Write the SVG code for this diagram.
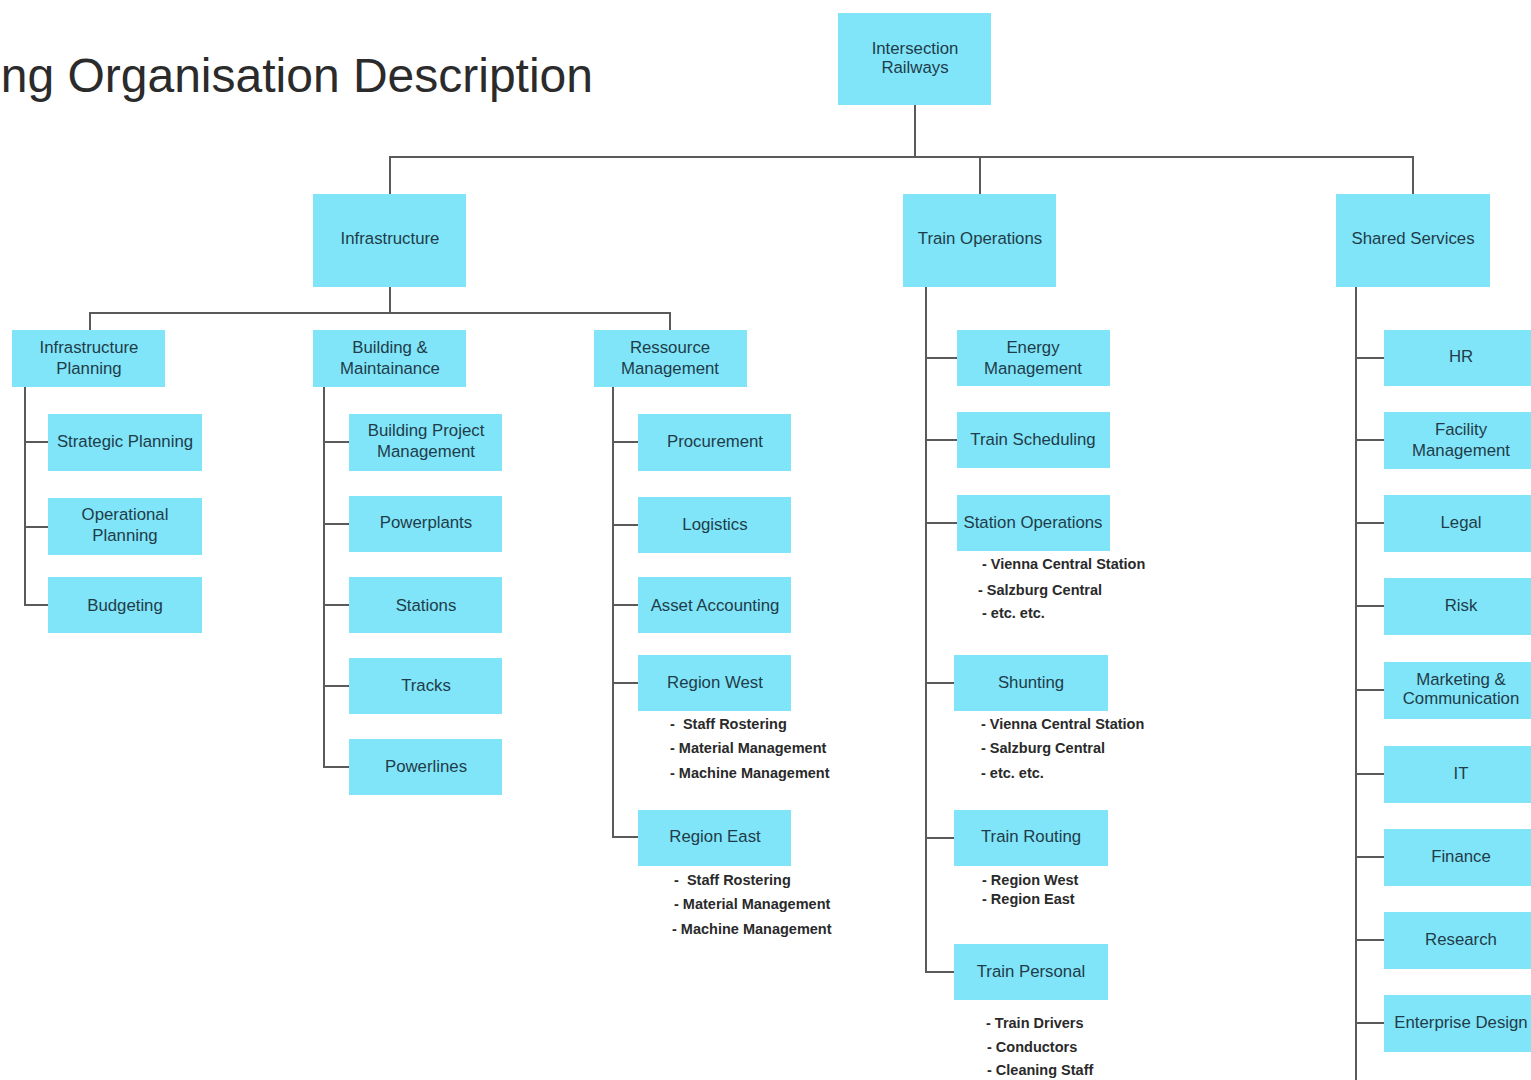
<svg xmlns="http://www.w3.org/2000/svg" width="1531" height="1080" viewBox="0 0 1531 1080">
<style>
.b{fill:#80e5f8}
.t{font-family:"Liberation Sans",Arial,sans-serif;font-size:16.8px;fill:#1f3c4a;text-anchor:middle}
.s{font-family:"Liberation Sans",Arial,sans-serif;font-size:14.5px;font-weight:bold;fill:#2a2a2a;white-space:pre}
.c{fill:none;stroke:#5a5a5a;stroke-width:2}
.title{font-family:"Liberation Sans",Arial,sans-serif;font-size:48px;fill:#2b2b2b}
</style>
<rect width="1531" height="1080" fill="#ffffff"/>
<text class="title" x="593" y="92" text-anchor="end">ng Organisation Description</text>
<g id="connectors">
<path class="c" d="M915 105V157M390 194V157H1413V194M980 157V194"/>
<path class="c" d="M390 287V313M90 330V313H670V330"/>
<path class="c" d="M25 387V605H48M25 442H48M25 527H48"/>
<path class="c" d="M324 387V767H349M324 442H349M324 524H349M324 605H349M324 686H349"/>
<path class="c" d="M613 387V837H638M613 442H638M613 525H638M613 605H638M613 683H638"/>
<path class="c" d="M926 287V972H954M926 358H957M926 440H957M926 523H957M926 683H954M926 838H954"/>
<path class="c" d="M1356 287V1080M1356 358H1384M1356 440H1384M1356 523H1384M1356 606H1384M1356 690H1384M1356 774H1384M1356 857H1384M1356 940H1384M1356 1023H1384"/>
</g>
<g id="n-root"><rect class="b" x="838" y="13" width="153" height="92"/><text class="t" x="915" y="54">Intersection</text><text class="t" x="915" y="73">Railways</text></g>
<g id="n-infra"><rect class="b" x="313" y="194" width="153" height="93"/><text class="t" x="390" y="244">Infrastructure</text></g>
<g id="n-trainops"><rect class="b" x="903" y="194" width="153" height="93"/><text class="t" x="980" y="244">Train Operations</text></g>
<g id="n-shared"><rect class="b" x="1336" y="194" width="154" height="93"/><text class="t" x="1413" y="244">Shared Services</text></g>
<g id="n-infraplan"><rect class="b" x="12" y="330" width="153" height="57"/><text class="t" x="89" y="353">Infrastructure</text><text class="t" x="89" y="374">Planning</text></g>
<g id="n-building"><rect class="b" x="313" y="330" width="153" height="57"/><text class="t" x="390" y="353">Building &amp;</text><text class="t" x="390" y="374">Maintainance</text></g>
<g id="n-ressource"><rect class="b" x="594" y="330" width="153" height="57"/><text class="t" x="670" y="353">Ressource</text><text class="t" x="670" y="374">Management</text></g>
<g id="n-strategic"><rect class="b" x="48" y="414" width="154" height="57"/><text class="t" x="125" y="447">Strategic Planning</text></g>
<g id="n-operational"><rect class="b" x="48" y="498" width="154" height="57"/><text class="t" x="125" y="520">Operational</text><text class="t" x="125" y="541">Planning</text></g>
<g id="n-budgeting"><rect class="b" x="48" y="577" width="154" height="56"/><text class="t" x="125" y="611">Budgeting</text></g>
<g id="n-bpm"><rect class="b" x="349" y="414" width="153" height="57"/><text class="t" x="426" y="436">Building Project</text><text class="t" x="426" y="457">Management</text></g>
<g id="n-powerplants"><rect class="b" x="349" y="496" width="153" height="56"/><text class="t" x="426" y="528">Powerplants</text></g>
<g id="n-stations"><rect class="b" x="349" y="577" width="153" height="56"/><text class="t" x="426" y="611">Stations</text></g>
<g id="n-tracks"><rect class="b" x="349" y="658" width="153" height="56"/><text class="t" x="426" y="691">Tracks</text></g>
<g id="n-powerlines"><rect class="b" x="349" y="739" width="153" height="56"/><text class="t" x="426" y="772">Powerlines</text></g>
<g id="n-procurement"><rect class="b" x="638" y="414" width="153" height="57"/><text class="t" x="715" y="447">Procurement</text></g>
<g id="n-logistics"><rect class="b" x="638" y="497" width="153" height="56"/><text class="t" x="715" y="530">Logistics</text></g>
<g id="n-asset"><rect class="b" x="638" y="577" width="153" height="56"/><text class="t" x="715" y="611">Asset Accounting</text></g>
<g id="n-regionwest"><rect class="b" x="638" y="655" width="153" height="56"/><text class="t" x="715" y="688">Region West</text>
<text class="s" x="670" y="729">-  Staff Rostering</text><text class="s" x="670" y="753">- Material Management</text><text class="s" x="670" y="778">- Machine Management</text></g>
<g id="n-regioneast"><rect class="b" x="638" y="810" width="153" height="56"/><text class="t" x="715" y="842">Region East</text>
<text class="s" x="674" y="885">-  Staff Rostering</text><text class="s" x="674" y="909">- Material Management</text><text class="s" x="672" y="934">- Machine Management</text></g>
<g id="n-energy"><rect class="b" x="957" y="330" width="153" height="56"/><text class="t" x="1033" y="353">Energy</text><text class="t" x="1033" y="374">Management</text></g>
<g id="n-scheduling"><rect class="b" x="957" y="412" width="153" height="56"/><text class="t" x="1033" y="445">Train Scheduling</text></g>
<g id="n-stationops"><rect class="b" x="957" y="495" width="153" height="56"/><text class="t" x="1033" y="528">Station Operations</text>
<text class="s" x="982" y="569">- Vienna Central Station</text><text class="s" x="978" y="595">- Salzburg Central</text><text class="s" x="982" y="618">- etc. etc.</text></g>
<g id="n-shunting"><rect class="b" x="954" y="655" width="154" height="56"/><text class="t" x="1031" y="688">Shunting</text>
<text class="s" x="981" y="729">- Vienna Central Station</text><text class="s" x="981" y="753">- Salzburg Central</text><text class="s" x="981" y="778">- etc. etc.</text></g>
<g id="n-routing"><rect class="b" x="954" y="810" width="154" height="56"/><text class="t" x="1031" y="842">Train Routing</text>
<text class="s" x="982" y="885">- Region West</text><text class="s" x="982" y="904">- Region East</text></g>
<g id="n-personal"><rect class="b" x="954" y="944" width="154" height="56"/><text class="t" x="1031" y="977">Train Personal</text>
<text class="s" x="986" y="1028">- Train Drivers</text><text class="s" x="987" y="1052">- Conductors</text><text class="s" x="987" y="1075">- Cleaning Staff</text></g>
<g id="n-hr"><rect class="b" x="1384" y="330" width="154" height="56"/><text class="t" x="1461" y="362">HR</text></g>
<g id="n-facility"><rect class="b" x="1384" y="412" width="154" height="57"/><text class="t" x="1461" y="435">Facility</text><text class="t" x="1461" y="456">Management</text></g>
<g id="n-legal"><rect class="b" x="1384" y="495" width="154" height="57"/><text class="t" x="1461" y="528">Legal</text></g>
<g id="n-risk"><rect class="b" x="1384" y="578" width="154" height="57"/><text class="t" x="1461" y="611">Risk</text></g>
<g id="n-marketing"><rect class="b" x="1384" y="662" width="154" height="57"/><text class="t" x="1461" y="685">Marketing &amp;</text><text class="t" x="1461" y="704">Communication</text></g>
<g id="n-it"><rect class="b" x="1384" y="746" width="154" height="57"/><text class="t" x="1461" y="779">IT</text></g>
<g id="n-finance"><rect class="b" x="1384" y="829" width="154" height="57"/><text class="t" x="1461" y="862">Finance</text></g>
<g id="n-research"><rect class="b" x="1384" y="912" width="154" height="57"/><text class="t" x="1461" y="945">Research</text></g>
<g id="n-enterprise"><rect class="b" x="1384" y="995" width="154" height="57"/><text class="t" x="1461" y="1028">Enterprise Design</text></g>
</svg>
